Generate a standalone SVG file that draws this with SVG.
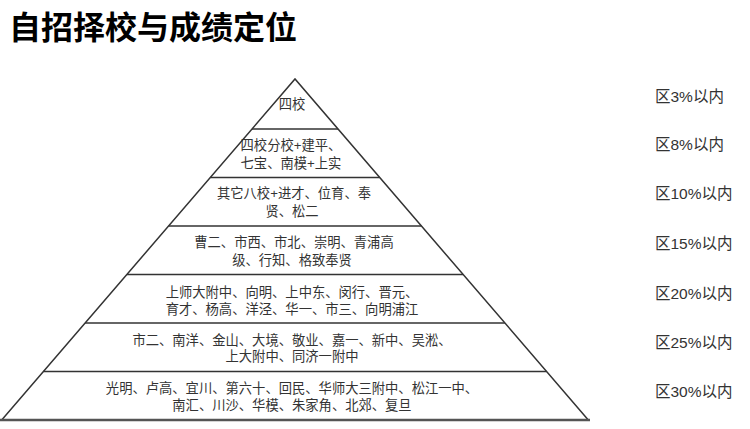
<svg xmlns="http://www.w3.org/2000/svg" width="750" height="429" viewBox="0 0 750 429">
<style>
.t{font-family:"Liberation Sans","Noto Sans CJK SC",sans-serif;font-size:13.3px;fill:#333;text-anchor:middle}
.r{font-family:"Liberation Sans","Noto Sans CJK SC",sans-serif;font-size:15.5px;fill:#333}
.ln{stroke:#333;stroke-width:1.5;fill:none}
</style>
<rect width="750" height="429" fill="#fff"/>
<text x="9" y="39" font-family="'Noto Sans CJK SC',sans-serif" font-weight="bold" font-size="32" fill="#000">自招择校与成绩定位</text>
<g id="connectors">
<path class="ln" d="M1.7,420 L295,79 L588.3,420"/>
<line class="ln" x1="252" y1="129" x2="338" y2="129"/>
<line class="ln" x1="210.3" y1="177.5" x2="379.7" y2="177.5"/>
<line class="ln" x1="168.6" y1="226" x2="421.4" y2="226"/>
<line class="ln" x1="126.9" y1="274.5" x2="463.1" y2="274.5"/>
<line class="ln" x1="85.2" y1="323" x2="504.8" y2="323"/>
<line class="ln" x1="43.4" y1="371.5" x2="546.6" y2="371.5"/>
<line x1="0" y1="420" x2="590" y2="420" stroke="#555" stroke-width="2.5"/>
</g>
<g id="tier1"><text class="t" x="292" y="109">四校</text><text class="r" x="655" y="102">区3%以内</text></g>
<g id="tier2"><text class="t" x="291" y="150">四校分校+建平、</text><text class="t" x="291" y="168">七宝、南模+上实</text><text class="r" x="655" y="150">区8%以内</text></g>
<g id="tier3"><text class="t" x="294" y="198">其它八校+进才、位育、奉</text><text class="t" x="292" y="216">贤、松二</text><text class="r" x="655" y="199">区10%以内</text></g>
<g id="tier4"><text class="t" x="294" y="247">曹二、市西、市北、崇明、青浦高</text><text class="t" x="292" y="265">级、行知、格致奉贤</text><text class="r" x="655" y="249">区15%以内</text></g>
<g id="tier5"><text class="t" x="292" y="297">上师大附中、向明、上中东、闵行、晋元、</text><text class="t" x="292" y="314">育才、杨高、洋泾、华一、市三、向明浦江</text><text class="r" x="655" y="299">区20%以内</text></g>
<g id="tier6"><text class="t" x="292" y="345">市二、南洋、金山、大境、敬业、嘉一、新中、吴淞、</text><text class="t" x="292" y="361">上大附中、同济一附中</text><text class="r" x="655" y="348">区25%以内</text></g>
<g id="tier7"><text class="t" x="292" y="393">光明、卢高、宜川、第六十、回民、华师大三附中、松江一中、</text><text class="t" x="292" y="410">南汇、川沙、华模、朱家角、北郊、复旦</text><text class="r" x="655" y="397">区30%以内</text></g>
</svg>
